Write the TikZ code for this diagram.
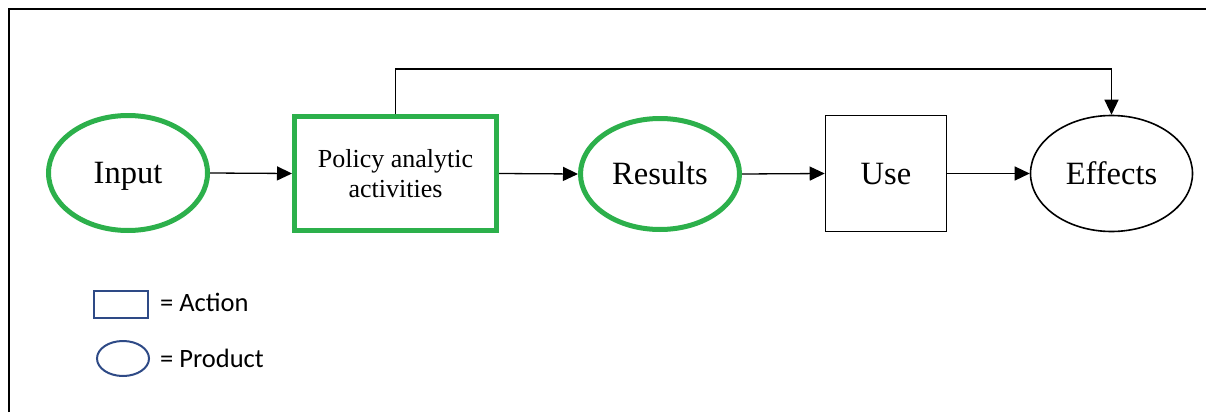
\documentclass[tikz,border=0pt]{standalone}
\usepackage{fontspec}
\setmainfont{Liberation Serif}
\newfontfamily\legfont{Carlito}
\usetikzlibrary{shapes.geometric,arrows.meta}
\definecolor{pgreen}{RGB}{44,176,75}
\definecolor{legblue}{RGB}{46,74,134}
\tikzset{
  big/.style={font=\fontsize{32.5}{36}\selectfont,text height=21pt,text depth=0pt},
  prodg/.style={ellipse,draw=pgreen,line width=5pt,inner sep=0pt,big},
  prodk/.style={ellipse,draw=black,line width=1.6pt,inner sep=0pt,big},
  actg/.style={rectangle,draw=pgreen,line width=5pt,inner sep=0pt,align=center,font=\fontsize{26}{30}\selectfont},
  actk/.style={rectangle,draw=black,line width=1.6pt,inner sep=0pt,big},
  conn/.style={line width=1.3pt,-{Triangle[length=15pt,width=14pt]}},
  legtext/.style={anchor=west,inner sep=0pt,font=\legfont\fontsize{26.5}{30}\selectfont},
}
\begin{document}
\begin{tikzpicture}[x=1pt,y=-1pt]
\useasboundingbox (0,0) rectangle (1206,412);
\draw[line width=2pt] (9,412) -- (9,9) -- (1206,9);
\node[prodg,minimum width=159pt,minimum height=115pt] (in) at (128,173) {Input};
\node[actg,minimum width=202pt,minimum height=114pt] (pa) at (395.5,173.5) {Policy analytic\\activities};
\node[prodg,minimum width=159pt,minimum height=111pt] (res) at (660,174) {Results};
\node[actk,minimum width=121pt,minimum height=116pt] (use) at (886,173.5) {Use};
\node[prodk,minimum width=162pt,minimum height=116pt] (eff) at (1111.5,173.5) {Effects};
\coordinate (fb) at (1111.5,69);
\draw[conn] (in.east) -- (pa.west);
\draw[conn] (pa.east) -- (res.west);
\draw[conn] (res.east) -- (use.west);
\draw[conn] (use.east) -- (eff.west);
\draw[conn] (pa.north) |- (fb) -- (eff.north);
\node[rectangle,draw=legblue,line width=2pt,minimum width=54pt,minimum height=27pt,inner sep=0pt] (la) at (120.5,304) {};
\node[ellipse,draw=legblue,line width=2pt,minimum width=52pt,minimum height=35pt,inner sep=0pt] (lp) at (123,358.5) {};
\node[legtext] (ta) at (160,302) {= Action};
\node[legtext] (tp) at (160,358) {= Product};
\end{tikzpicture}
\end{document}
